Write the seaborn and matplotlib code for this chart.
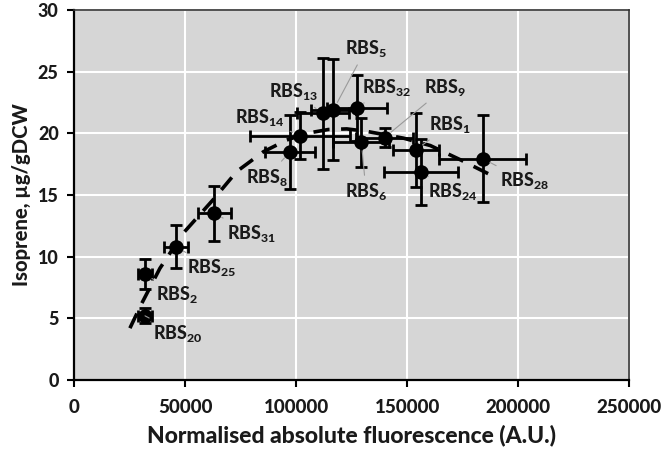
import matplotlib
matplotlib.use("Agg")
import matplotlib.pyplot as plt
import seaborn as sns
import numpy as np
import pandas as pd

# ---------------- data ----------------
labels = ["20", "2", "25", "31", "8", "14", "13", "5", "32", "6", "9", "1", "24", "28"]
fluor = [32000, 32000, 46000, 63200, 97300, 101800, 112000, 116800, 127300, 129400, 139800, 153900, 156200, 183900]
isoprene = [5.2, 8.6, 10.8, 13.5, 18.5, 19.8, 21.6, 21.9, 22.05, 19.25, 19.65, 18.65, 16.85, 17.95]
fluor_err = [3000, 3200, 5300, 7500, 11100, 22500, 11700, 10000, 13500, 12600, 13000, 10500, 16800, 19500]
isoprene_err = [0.6, 1.2, 1.75, 2.2, 3.0, 1.9, 4.5, 4.1, 2.7, 2.0, 0.8, 3.0, 2.65, 3.5]

# dashed trend line
trend_x = [25200, 30500, 38700, 49200, 62600, 73300, 85300, 95800, 105000, 114500,
           122800, 131800, 148300, 160400, 173900, 188900]
trend_y = [4.2, 6.2, 9.05, 11.9, 14.6, 16.9, 18.5, 19.45, 20.0, 20.3,
           20.35, 20.15, 19.6, 19.0, 17.85, 16.5]

x_ticks = [0, 50000, 100000, 150000, 200000, 250000]
y_ticks = [0, 5, 10, 15, 20, 25, 30]

# label placement (layout)
label_pos = {
    "5": (122000, 26.85), "13": (87800, 23.35), "14": (72500, 21.25), "32": (129700, 23.7),
    "8": (77500, 16.45), "6": (122000, 15.25), "9": (157600, 23.7), "1": (159900, 20.7),
    "24": (159400, 15.25), "28": (191900, 16.15), "31": (68900, 11.9), "25": (50900, 9.1),
    "2": (36900, 6.9), "20": (35600, 3.8),
}

# ---------------- style ----------------
sns.set_theme(style="white")
plt.rcParams["font.family"] = ["Lato", "DejaVu Sans"]
plt.rcParams["mathtext.fontset"] = "custom"
plt.rcParams["mathtext.rm"] = "Lato:black"
plt.rcParams["mathtext.it"] = "Lato:black:italic"
plt.rcParams["mathtext.bf"] = "Lato:black"

W = "black"
TXT = "#1a1a1a"
fig = plt.figure(figsize=(6.66, 4.57), dpi=100)
ax = fig.add_axes([0.111, 0.1685, 0.834, 0.81])
ax.set_facecolor("#d6d6d6")

df = pd.DataFrame({"fluor": fluor, "isoprene": isoprene})
tdf = pd.DataFrame({"x": trend_x, "y": trend_y})

ax.grid(True, color="white", linewidth=1.5, zorder=0)
ax.set_axisbelow(True)

sns.lineplot(data=tdf, x="x", y="y", ax=ax, color="black", linewidth=2.6,
             sort=False, zorder=2)
ax.lines[-1].set_dashes([4.5, 3.2])

ax.errorbar(fluor, isoprene, xerr=fluor_err, yerr=isoprene_err, fmt="none",
            ecolor="black", elinewidth=2, capsize=4, capthick=2, zorder=3)
sns.scatterplot(data=df, x="fluor", y="isoprene", ax=ax, color="black", s=110,
                edgecolor="black", linewidth=0, zorder=4)

for lab, xv, yv in zip(labels, fluor, isoprene):
    tx, ty = label_pos[lab]
    ax.annotate(r"RBS$_{\mathit{" + lab + r"}}$", xy=(xv, yv), xytext=(tx, ty),
                ha="left", va="center", fontsize=12.8, fontweight=W,
                color=TXT, zorder=5,
                arrowprops=dict(arrowstyle="-", color="#9a9a9a", lw=0.8,
                                shrinkA=2, shrinkB=6))

ax.set_xlim(0, 250000)
ax.set_ylim(0, 30)
ax.set_xticks(x_ticks)
ax.set_yticks(y_ticks)
ax.set_xticklabels([str(v) for v in x_ticks], fontsize=13.5, fontweight=W, color=TXT)
ax.set_yticklabels([str(v) for v in y_ticks], fontsize=13, fontweight=W, color=TXT)
ax.tick_params(axis="x", which="major", direction="out", length=5, width=1.5,
               color="black", bottom=True, pad=9)
ax.tick_params(axis="y", which="major", direction="out", length=5, width=1.5,
               color="black", left=True, pad=6)

ax.set_xlabel("Normalised absolute fluorescence (A.U.)", fontsize=16.5, fontweight=W,
              color=TXT, labelpad=6)
ax.set_ylabel("Isoprene, µg/gDCW", fontsize=14.5, fontweight=W, color=TXT,
              labelpad=5)

for side in ["left", "bottom"]:
    ax.spines[side].set_color("black")
    ax.spines[side].set_linewidth(1.6)
for side in ["top", "right"]:
    ax.spines[side].set_color("#333333")
    ax.spines[side].set_linewidth(1.2)

fig.savefig("out.png", dpi=100)
